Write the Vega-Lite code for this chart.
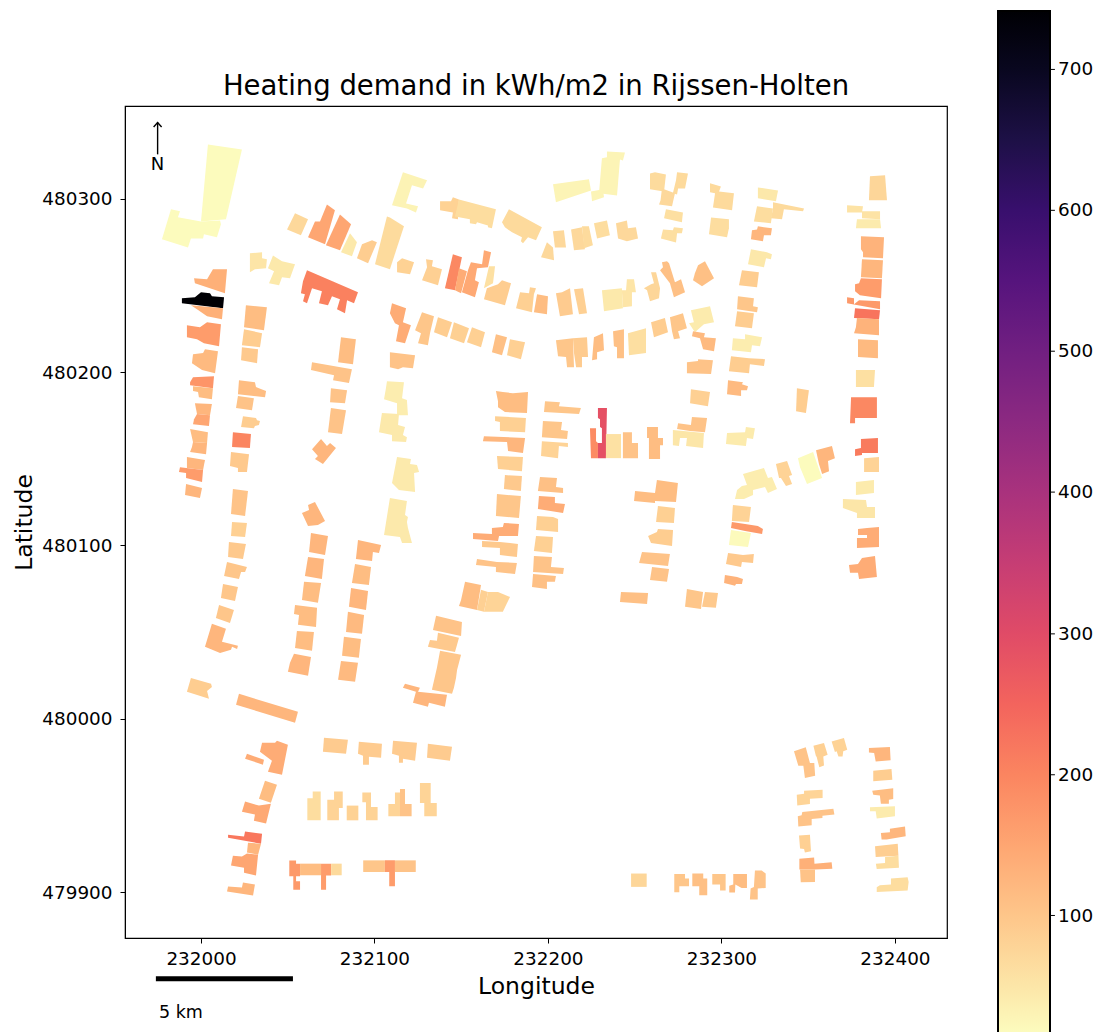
{"$schema":"https://vega.github.io/schema/vega-lite/v6.json","width":822,"height":832,"autosize":"none","padding":{"left":125,"top":106,"right":157,"bottom":94},"background":"white","config":{"view":{"stroke":"black","strokeWidth":1.2},"font":"DejaVu Sans"},"title":{"text":"Heating demand in kWh/m2 in Rijssen-Holten","fontSize":27.5,"font":"DejaVu Sans","fontWeight":"normal","color":"black","offset":-89},
"datasets":{"polys":[
{"id":1,"v":18,"xs":[232004,232023.6,232014.4,232000],"ys":[480331.4,480328.5,480288.2,480287]},
{"id":2,"v":18,"xs":[231982.7,231987.9,231986.7,232000,232011,232011.5,232009.2,232001.7,232001.2,231994.2,231992.5,231977.5],"ys":[480294,480292.8,480289.4,480287,480287.6,480285.3,480277.8,480279.6,480277.2,480277.2,480272,480276.7]},
{"id":3,"v":72,"xs":[232054.2,232061.7,232057.6,232049.6],"ys":[480291.7,480288.2,480279,480282.4]},
{"id":4,"v":150,"xs":[232072.6,232077.2,232071.5,232061.7,232065.7,232068.6],"ys":[480296.8,480293.4,480273.8,480277.8,480287,480287]},
{"id":5,"v":150,"xs":[232080.1,232086.5,232080.1,232072],"ys":[480291,480285.3,480270.3,480273.2]},
{"id":6,"v":45,"xs":[232085.9,232089.9,232087,232080.7],"ys":[480280.1,480275,480266.9,480269.2]},
{"id":7,"v":90,"xs":[232098.6,232101.4,232096.3,232089.9,232092.8],"ys":[480276.1,480275,480262.8,480265.7,480273.8]},
{"id":8,"v":68,"xs":[232107.2,232108.9,232117,232108.9,232100.3],"ys":[480289.9,480289.3,480284.2,480259.4,480262.3]},
{"id":9,"v":30,"xs":[232116.4,232130.3,232128,232121.6,232118.2,232125.1,232123.9,232118.7,232110.1],"ys":[480315.3,480310.7,480306,480307.8,480297.4,480295.7,480292.2,480294.5,480296.3]},
{"id":10,"v":741,"xs":[231989,231996.5,232000,232005.2,232006.3,232013.3,232012.7,231989],"ys":[480242.7,480243.2,480246.1,480245.5,480243.8,480243.2,480236.9,480239.8]},
{"id":11,"v":135,"xs":[231996,232003.5,232006.9,232015,232013.8,231996.5],"ys":[480254.2,480253.6,480259.4,480259.4,480245.5,480251.3]},
{"id":12,"v":135,"xs":[231994.2,232012.7,232012.1,232003.5,231997.7],"ys":[480238.6,480236.9,480230.6,480232.3,480236.3]},
{"id":13,"v":165,"xs":[231991.9,231999.4,232003.5,232011.5,232010.4,232001.7,231997.7,231991.9],"ys":[480227.1,480226,480228.8,480227.7,480215,480216.7,480219,480220.2]},
{"id":14,"v":120,"xs":[231995.4,232001.2,232002.3,232009.8,232008.1,232000.6,231994.8],"ys":[480210.4,480211,480213.3,480212.1,480199.4,480201.2,480205.2]},
{"id":15,"v":175,"xs":[231993.7,231995.4,232007.5,232006.9,231993.7],"ys":[480194.2,480197.1,480197.7,480190.8,480192.5]},
{"id":16,"v":115,"xs":[231995.4,232006.9,232006.3,231998.8,231998.3,231995.4],"ys":[480191.9,480190.8,480184.4,480185.6,480188.5,480189.1]},
{"id":17,"v":125,"xs":[231996.5,232006.3,232005.2,231997.7],"ys":[480182.1,480181.6,480175.2,480175.8]},
{"id":18,"v":150,"xs":[231997.7,232005.2,232004.6,231995.4,231996],"ys":[480175.8,480175.2,480168.9,480170,480172.9]},
{"id":19,"v":115,"xs":[231993.7,232004,232003.5,231995.4],"ys":[480167.2,480165.4,480159.1,480159.7]},
{"id":20,"v":125,"xs":[231995.4,232003.5,232002.9,231993.7,231994.8],"ys":[480159.7,480159.1,480152.7,480153.9,480156.8]},
{"id":21,"v":125,"xs":[231991.9,232002.3,232001.2,231991.9],"ys":[480151,480149.3,480143.5,480144.7]},
{"id":22,"v":165,"xs":[231987.9,232001.2,232000.6,231991.4,231991.4,231987.3],"ys":[480145.2,480143.5,480136.6,480138.9,480141.8,480142.4]},
{"id":23,"v":125,"xs":[231991.4,232000.6,231999.4,231990.8],"ys":[480135.5,480133.1,480127.4,480129.1]},
{"id":24,"v":115,"xs":[232025.9,232038,232036.3,232024.8],"ys":[480238.6,480237.5,480224.2,480226]},
{"id":25,"v":90,"xs":[232024.8,232035.2,232034,232023.6],"ys":[480224.8,480222.5,480214.4,480215.6]},
{"id":26,"v":95,"xs":[232023.6,232032.9,232032.3,232023.1],"ys":[480214.4,480213.3,480205.2,480206.9]},
{"id":27,"v":115,"xs":[232021.9,232031.1,232031.7,232033.4,232037.5,232036.9,232021.3],"ys":[480195.4,480194.2,480191.4,480190.8,480189.1,480185.6,480187.3]},
{"id":28,"v":105,"xs":[232021.3,232030.5,232029.4,232020.2],"ys":[480186.2,480185,480178.1,480179.3]},
{"id":29,"v":90,"xs":[232024.2,232031.7,232032.3,232034,232033.4,232031.1,232030.5,232023.1],"ys":[480174.6,480173.5,480172.3,480171.8,480169.5,480168.9,480167.7,480168.3]},
{"id":30,"v":200,"xs":[232018.4,232028.8,232028.2,232017.9],"ys":[480165.4,480164.3,480156.2,480156.8]},
{"id":31,"v":95,"xs":[232017.3,232027.7,232026.5,232021.3,232021.3,232016.7],"ys":[480153.9,480152.7,480142.4,480142.4,480144.7,480145.8]},
{"id":32,"v":105,"xs":[232018.4,232027.1,232025.4,232017.3],"ys":[480132.6,480131.4,480117,480118.2]},
{"id":33,"v":85,"xs":[232017.9,232026.5,232025.4,232017.3],"ys":[480113.6,480113,480104.9,480105.5]},
{"id":34,"v":95,"xs":[232016.1,232025.9,232024.2,232015.6],"ys":[480102,480100.9,480092.2,480093.4]},
{"id":35,"v":100,"xs":[232015,232026.5,232025.4,232023.1,232021.9,232013.3],"ys":[480090.5,480087.6,480084.7,480084.7,480080.7,480082.4]},
{"id":36,"v":100,"xs":[232012.7,232021.3,232019.6,232011.5],"ys":[480077.8,480076.1,480068,480069.7]},
{"id":37,"v":100,"xs":[232010.4,232019,232016.7,232008.6],"ys":[480065.7,480062.8,480055.3,480058.2]},
{"id":38,"v":125,"xs":[232006.3,232014.4,232012.1,232021.3,232020.8,232017.9,232017.3,232011,232002.3],"ys":[480054.8,480051.9,480044.4,480042.1,480040.3,480041.5,480039.8,480038,480041.5]},
{"id":39,"v":90,"xs":[231994.2,232005.8,232006.3,232003.5,232004.6,231991.9],"ys":[480023.6,480020.2,480018.4,480016.1,480011.5,480015.6]},
{"id":40,"v":125,"xs":[232021.9,232055.9,232054.2,232020.2],"ys":[480014.4,480004,479997.7,480008.1]},
{"id":41,"v":125,"xs":[232063.4,232073.2,232071.5,232062.3],"ys":[480107.2,480105.5,480094.5,480096.3]},
{"id":42,"v":125,"xs":[232061.7,232070.9,232069.7,232059.9],"ys":[480093.4,480092.2,480080.7,480082.4]},
{"id":43,"v":115,"xs":[232059.4,232069.2,232067.4,232058.2],"ys":[480079,480078.4,480066.9,480068.6]},
{"id":44,"v":115,"xs":[232054.2,232066.9,232066.3,232055.9,232056.5,232053.6],"ys":[480065.7,480064,480053,480054.2,480059.9,480060.5]},
{"id":45,"v":115,"xs":[232055.3,232065.1,232064,232054.2],"ys":[480050.7,480050.1,480039.2,480040.9]},
{"id":46,"v":125,"xs":[232053.6,232063.4,232061.7,232050.1,232051.3],"ys":[480037.5,480035.7,480024.8,480027.1,480032.3]},
{"id":47,"v":125,"xs":[232090.5,232103.8,232102.6,232099.1,232098.6,232089.3],"ys":[480103.2,480100.3,480095.7,480096.3,480091.1,480092.2]},
{"id":48,"v":115,"xs":[232088.8,232098,232096.8,232087],"ys":[480089.3,480087.6,480077.2,480078.4]},
{"id":49,"v":125,"xs":[232086.5,232096.3,232095.1,232085.3],"ys":[480075.5,480073.8,480062.8,480064.6]},
{"id":50,"v":120,"xs":[232084.7,232094,232092.8,232083.6],"ys":[480061.7,480059.9,480049,480050.1]},
{"id":51,"v":115,"xs":[232082.4,232092.2,232091,232081.3],"ys":[480047.3,480046.1,480035.2,480036.3]},
{"id":52,"v":120,"xs":[232080.7,232090.5,232088.8,232079],"ys":[480033.4,480032.3,480021.3,480022.5]},
{"id":53,"v":105,"xs":[232135.5,232150.4,232149.9,232133.7],"ys":[480059.4,480055.9,480047.8,480051.3]},
{"id":54,"v":95,"xs":[232136.6,232148.7,232147.6,232146.4,232130.8,232132,232136],"ys":[480049.6,480046.7,480042.7,480038.6,480041.5,480045.5,480045]},
{"id":55,"v":100,"xs":[232137.8,232149.9,232148.7,232147.6,232147,232145.8,232144.7,232133.1,232136],"ys":[480039.2,480036.9,480032.3,480028.2,480023.6,480017.9,480014.4,480016.7,480029.4]},
{"id":56,"v":125,"xs":[232116.4,232117.6,232126.2,232125.1,232141.8,232140.6,232131.4,232130.8,232122.2,232123.9],"ys":[480017.9,480020.2,480017.9,480015.6,480013.8,480006.9,480009.2,480006.9,480009.2,480015.6]},
{"id":57,"v":115,"xs":[232152.2,232161.4,232159.1,232148.7,232149.9],"ys":[480079,480077.2,480062.8,480065.1,480068.6]},
{"id":58,"v":85,"xs":[232161.4,232165.4,232163.1,232159.1],"ys":[480074.4,480073.2,480061.7,480062.8]},
{"id":59,"v":78,"xs":[232165.4,232171.2,232178.1,232174,232163.1],"ys":[480073.2,480073.2,480070.3,480061.7,480061.7]},
{"id":60,"v":115,"xs":[232170,232174,232179.8,232188.5,232187.9,232175.2,232171.2,232171.2],"ys":[480189.1,480188.5,480187.9,480188.5,480176.4,480177,480179.8,480183.3]},
{"id":61,"v":85,"xs":[232169.5,232187.3,232186.8,232172.3,232172.3,232169.5],"ys":[480174.6,480173.5,480165.4,480166,480171.2,480171.8]},
{"id":62,"v":125,"xs":[232163.1,232186.8,232185.6,232177,232176.4,232162.5],"ys":[480163.1,480162,480153.3,480154.5,480159.7,480160.2]},
{"id":63,"v":85,"xs":[232170.6,232185.6,232185,232171.2],"ys":[480151.6,480151,480142.9,480144.1]},
{"id":64,"v":95,"xs":[232175.2,232185,232184.4,232174.6],"ys":[480140.6,480140.1,480131.4,480132.6]},
{"id":65,"v":100,"xs":[232170.6,232184.4,232183.3,232170],"ys":[480129.7,480128.5,480115.9,480117]},
{"id":66,"v":140,"xs":[232156.8,232167.7,232167.7,232174,232174.6,232183.3,232182.7,232171.8,232171.2,232156.8],"ys":[480107.2,480106.6,480110.1,480110.7,480113,480112.4,480105.5,480105.5,480102.6,480103.8]},
{"id":67,"v":95,"xs":[232162,232172.3,232182.7,232182.1,232172.3,232172.3,232162],"ys":[480102.6,480102,480100.9,480093.4,480094.5,480098.6,480099.1]},
{"id":68,"v":105,"xs":[232159.1,232170.6,232182.1,232181,232170,232170,232158.5],"ys":[480092.2,480090.5,480089.9,480083.6,480084.7,480087.6,480088.8]},
{"id":69,"v":100,"xs":[232198.3,232206.9,232206.3,232219,232217.9,232197.7],"ys":[480183.3,480182.7,480180.4,480179.3,480175.8,480177]},
{"id":70,"v":100,"xs":[232197.1,232208.1,232207.5,232211.5,232211,232196.5],"ys":[480171.8,480171.2,480166.6,480166,480161.4,480162.5]},
{"id":71,"v":80,"xs":[232196.5,232211.5,232211.5,232206.3,232205.8,232196],"ys":[480160.2,480159.1,480156.8,480157.4,480150.4,480151.6]},
{"id":72,"v":110,"xs":[232195.4,232205.2,232204.6,232208.7,232208.7,232194.2],"ys":[480139.5,480138.9,480133.7,480133.1,480130.3,480131.4]},
{"id":73,"v":140,"xs":[232194.8,232204,232204,232209.8,232208.7,232194.2],"ys":[480128.5,480128,480124.5,480123.9,480118.7,480121]},
{"id":74,"v":85,"xs":[232193.7,232202.9,232205.8,232205.8,232193.1],"ys":[480117,480116.4,480115.3,480107.8,480108.9]},
{"id":75,"v":85,"xs":[232193.1,232202.9,232202.3,232191.9],"ys":[480105.5,480104.9,480095.7,480096.8]},
{"id":76,"v":105,"xs":[232191.9,232202.3,232201.7,232209.2,232208.7,232191.4],"ys":[480094,480093.4,480087.6,480087,480083.6,480084.7]},
{"id":77,"v":110,"xs":[232191.4,232204.6,232204,232199.4,232199.4,232190.8],"ys":[480083.6,480082.4,480079,480079,480074.9,480076.1]},
{"id":78,"v":190,"xs":[232224.2,232227.7,232227.7,232228.8,232228.8,232224.8],"ys":[480167.7,480167.7,480160.2,480159.1,480150.4,480150.4]},
{"id":79,"v":290,"xs":[232228.8,232234,232233.4,232228.8,232228.8,232231.1,232231.1,232230,232230,232228.8],"ys":[480179.3,480179.3,480150.4,480150.4,480159.1,480159.1,480167.7,480168.3,480172.9,480173.5]},
{"id":80,"v":58,"xs":[232233.4,232242.1,232242.1,232233.4],"ys":[480164.3,480164.3,480150.4,480150.4]},
{"id":81,"v":105,"xs":[232243.2,232248.4,232248.4,232251.9,232251.9,232243.2],"ys":[480165.4,480165.4,480159.1,480159.1,480150.4,480150.4]},
{"id":82,"v":115,"xs":[232257.1,232263.4,232263.4,232266.3,232266.3,232264.6,232264.6,232258.2,232258.2,232257.1],"ys":[480168.3,480168.3,480162,480162,480157.9,480157.9,480149.9,480149.9,480162,480162]},
{"id":83,"v":115,"xs":[232250.2,232261.7,232262.8,232274.9,232273.8,232261.7,232261.7,232249.6],"ys":[480131.4,480130.3,480137.8,480136,480125.1,480125.7,480124.5,480125.7]},
{"id":84,"v":85,"xs":[232263.4,232273.2,232272.6,232262.3],"ys":[480122.8,480121.6,480113,480113.6]},
{"id":85,"v":90,"xs":[232263.4,232272.1,232271.5,232259.4,232257.7,232262.8],"ys":[480109.5,480108.9,480099.7,480101.4,480105.5,480107.8]},
{"id":86,"v":105,"xs":[232254.2,232270.3,232269.2,232252.5],"ys":[480096.3,480095.1,480088.2,480089.9]},
{"id":87,"v":105,"xs":[232260,232269.8,232268.6,232258.8],"ys":[480087.6,480086.5,480079,480080.1]},
{"id":88,"v":110,"xs":[232242.1,232257.7,232257.1,232241.5],"ys":[480073.2,480072.6,480066.3,480067.4]},
{"id":89,"v":100,"xs":[232280.1,232289.4,232288.2,232279],"ys":[480074.9,480073.2,480063.4,480064.6]},
{"id":90,"v":95,"xs":[232290.5,232298,232296.8,232288.8],"ys":[480073.2,480072.6,480064,480064.6]},
{"id":91,"v":85,"xs":[232282.4,232293.4,232292.2,232281.9],"ys":[480190.2,480188.5,480180.4,480182.1]},
{"id":92,"v":120,"xs":[232303.8,232312.4,232311.8,232315.3,232314.7,232311.3,232311.3,232303.2],"ys":[480195.4,480194.2,480193.1,480191.9,480189.6,480189.6,480186.2,480187.3]},
{"id":93,"v":90,"xs":[232343.5,232350.4,232348.7,232343],"ys":[480190.8,480189.6,480176.4,480177.5]},
{"id":94,"v":105,"xs":[232283,232291.7,232290.5,232281.9,232274.4,232275,232282.4],"ys":[480174.1,480173.5,480165.4,480166,480167.2,480170.6,480169.5]},
{"id":95,"v":50,"xs":[232272,232289.9,232289.4,232279.6,232280.1,232276.1,232275.5,232272],"ys":[480166.6,480164.9,480156.2,480157.4,480162,480162,480157.4,480157.9]},
{"id":96,"v":42,"xs":[232303.2,232313.6,232314.1,232319.3,232318.2,232314.7,232314.1,232302.6],"ys":[480164.9,480165.4,480168.3,480167.7,480161.4,480162,480157.4,480158.5]},
{"id":97,"v":40,"xs":[232312.4,232324.5,232326.8,232329.1,232332,232326.8,232325.1,232318.2,232318.2,232313,232307.8,232309,232311.8,232314.7],"ys":[480141.2,480144.7,480138.9,480139.5,480132.6,480130.3,480133.7,480132,480129.1,480126.8,480126.8,480132,480134.3,480134.9]},
{"id":98,"v":80,"xs":[232331.4,232337.8,232340.7,232338.9,232340.7,232337.2,232334.3,232333.2],"ys":[480147,480148.7,480140.6,480140.1,480135.5,480134.3,480138.9,480138.9]},
{"id":99,"v":18,"xs":[232344.1,232352.8,232358,232349.3,232345.3],"ys":[480150.4,480153.9,480138.9,480135.5,480145.2]},
{"id":100,"v":125,"xs":[232354.5,232363.7,232365.4,232361.4,232362,232358,232356.2],"ys":[480155,480157.4,480150.4,480148.7,480142.9,480141.2,480147]},
{"id":101,"v":80,"xs":[232306.6,232317,232315.9,232306],"ys":[480123.4,480122.2,480113.6,480114.1]},
{"id":102,"v":170,"xs":[232306,232313.6,232321,232323.9,232323.4,232313.6,232305.5],"ys":[480113.6,480112.4,480111.2,480109.5,480106.6,480108.4,480110.1]},
{"id":103,"v":20,"xs":[232305.5,232317,232315.3,232304.3],"ys":[480108.9,480107.2,480099.1,480100.3]},
{"id":104,"v":95,"xs":[232303.8,232312.4,232318.7,232318.2,232311.8,232311.3,232302.6],"ys":[480095.7,480094.5,480095.1,480089.9,480090.5,480087.6,480089.3]},
{"id":105,"v":130,"xs":[232302,232309,232312.4,232311.8,232308.4,232307.8,232301.5],"ys":[480083,480081.8,480080.7,480077.8,480077.8,480076.7,480078.4]},
{"id":106,"v":60,"xs":[232377.5,232388.5,232387.9,232377.5],"ys":[480201.2,480201.2,480191.4,480191.4]},
{"id":107,"v":195,"xs":[232374.7,232389.6,232389.6,232377,232377,232374.1],"ys":[480185.6,480185.6,480173.5,480173.5,480170.6,480170.6]},
{"id":108,"v":215,"xs":[232380.4,232390.2,232390.2,232381,232381,232377,232377,232380.4],"ys":[480161.4,480162,480153.3,480153.3,480152.2,480151.6,480155.6,480156.2]},
{"id":109,"v":80,"xs":[232382.2,232390.8,232390.8,232382.2],"ys":[480150.4,480151,480142.4,480142.4]},
{"id":110,"v":42,"xs":[232377.5,232387.9,232387.9,232382.7,232377.5],"ys":[480136.6,480137.8,480130.3,480129.7,480129.1]},
{"id":111,"v":50,"xs":[232370,232383.3,232383.9,232388.5,232388.5,232378.1,232378.1,232370],"ys":[480126.8,480126.2,480122.2,480122.2,480115.9,480115.9,480118.7,480121.6]},
{"id":112,"v":140,"xs":[232378.7,232383.9,232390.8,232390.8,232378.1,232378.1,232383.9,232383.9,232378.7],"ys":[480109.5,480110.1,480110.7,480099.1,480098.6,480104.3,480104.3,480106.1,480106.1]},
{"id":113,"v":140,"xs":[232381,232388.5,232389.6,232379.3,232378.7,232374.1,232373.5,232378.7],"ys":[480092.8,480094,480081.8,480080.7,480084.2,480084.2,480088.8,480089.3]},
{"id":114,"v":75,"xs":[232385.6,232394.3,232395.4,232385],"ys":[480313,480313.6,480299.2,480299.2]},
{"id":115,"v":55,"xs":[232372.4,232381.6,232381,232372.4],"ys":[480296.3,480295.7,480292.2,480292.2]},
{"id":116,"v":55,"xs":[232381,232391.4,232391.4,232381],"ys":[480292.8,480292.8,480288.2,480288.8]},
{"id":117,"v":42,"xs":[232378.1,232391.4,232392,232377.5],"ys":[480288.2,480288.2,480283,480283]},
{"id":118,"v":130,"xs":[232380.4,232393.7,232393.1,232381.6,232381.6,232380.4],"ys":[480278.4,480277.8,480265.7,480266.3,480269.2,480270.9]},
{"id":119,"v":125,"xs":[232381,232393.1,232392.5,232380.4],"ys":[480265.1,480264.6,480254.2,480254.8]},
{"id":120,"v":165,"xs":[232380.4,232392.5,232392,232379.8,232377,232377,232379.3],"ys":[480254.2,480253.6,480242.7,480244.4,480246.7,480250.7,480251.3]},
{"id":121,"v":170,"xs":[232372.4,232376.4,232376.4,232379.3,232391.4,232391.4,232372.4],"ys":[480243.2,480242.7,480239.2,480241.5,480241,480236.3,480239.8]},
{"id":122,"v":225,"xs":[232377,232391.4,232390.8,232376.4],"ys":[480236.9,480235.7,480230.6,480231.2]},
{"id":123,"v":130,"xs":[232378.1,232390.8,232390.8,232376.4,232377.5],"ys":[480231.2,480230.6,480221.3,480222.5,480226]},
{"id":124,"v":120,"xs":[232378.7,232390.2,232390.2,232378.7],"ys":[480219,480218.5,480208.1,480208.7]},
{"id":125,"v":48,"xs":[232321,232332.6,232331.4,232321],"ys":[480306.6,480304.9,480298.6,480300.3]},
{"id":126,"v":70,"xs":[232329.7,232347.6,232347,232336,232334.9,232328.5,232329.7],"ys":[480298,480294.5,480292.8,480294,480288.2,480288.8,480294]},
{"id":127,"v":65,"xs":[232320.5,232329.7,232328.5,232318.7],"ys":[480295.7,480294.5,480285.9,480287]},
{"id":128,"v":125,"xs":[232321,232329.1,232328.5,232324.5,232323.9,232317,232317.6,232320.5],"ys":[480284.2,480283,480279,480279,480275.5,480276.7,480281.9,480282.4]},
{"id":129,"v":48,"xs":[232317,232326.2,232329.1,232328.5,232325.7,232324.5,232315.3],"ys":[480270.9,480269.2,480268,480265.1,480265.7,480260.5,480262.3]},
{"id":130,"v":90,"xs":[232311.8,232321.6,232320.5,232310.1],"ys":[480258.8,480257.6,480249,480250.2]},
{"id":131,"v":100,"xs":[232309.5,232318.7,232318.2,232321,232320.5,232309],"ys":[480243.8,480242.7,480238,480237.5,480234.6,480236.3]},
{"id":132,"v":90,"xs":[232309,232318.7,232317.6,232307.8],"ys":[480235.2,480234,480225.4,480226.5]},
{"id":133,"v":40,"xs":[232313.6,232323.4,232322.2,232317.6,232317,232306,232306.6,232313.6],"ys":[480221.9,480220.2,480215,480215.6,480211.5,480212.7,480219.6,480219]},
{"id":134,"v":90,"xs":[232305.5,232315.9,232325.1,232324.5,232316.4,232315.9,232304.3],"ys":[480209.2,480208.1,480207.5,480203.5,480204.6,480199.4,480200.6]},
{"id":135,"v":68,"xs":[232258.8,232261.7,232268,232266.9,232258.8],"ys":[480314.7,480315.3,480314.1,480304.3,480305.5]},
{"id":136,"v":70,"xs":[232274.4,232280.7,232279,232275,232274.4,232272,232273.8],"ys":[480315.3,480314.7,480306,480306,480302.6,480303.2,480310.7]},
{"id":137,"v":72,"xs":[232265.7,232273.2,232271.5,232264,232264.9],"ys":[480306,480303.2,480295.7,480296.8,480299.2]},
{"id":138,"v":62,"xs":[232268,232277.8,232277.2,232266.9],"ys":[480294,480292.2,480286.5,480288.8]},
{"id":139,"v":62,"xs":[232266.3,232272,232272.6,232277.8,232277.2,232274.4,232273.8,232265.1],"ys":[480282.4,480281.9,480283.6,480283,480280.1,480280.1,480274.9,480277.2]},
{"id":140,"v":70,"xs":[232293.4,232299.7,232298.6,232307.2,232306.1,232295.1,232296.3,232293.4],"ys":[480309,480307.2,480304.3,480303.2,480293.4,480295.1,480303.2,480303.8]},
{"id":141,"v":65,"xs":[232294,232304.3,232304.3,232303.2,232292.8],"ys":[480289.3,480288.2,480283,480277.8,480279.6]},
{"id":142,"v":110,"xs":[232268.6,232269.8,232273.2,232276.7,232279,232272.6,232270.3,232264.6,232266.3,232265.7],"ys":[480264,480262.8,480251.9,480253.6,480246.1,480243.2,480251.3,480258.8,480260.5,480263.4]},
{"id":143,"v":110,"xs":[232286.5,232290.5,232295.7,232288.8,232283.6,232284.7],"ys":[480261.7,480264,480254.2,480249.6,480253,480257.1]},
{"id":144,"v":75,"xs":[232259.4,232262.3,232264.6,232264,232258.8,232257.1,232255.3,232259.4,232261.1],"ys":[480257.6,480257.6,480248.4,480242.7,480241,480247.3,480248.4,480250.7,480251.3]},
{"id":145,"v":90,"xs":[232259.4,232267.4,232269.2,232261.1],"ys":[480228.8,480231.2,480223,480220.2]},
{"id":146,"v":100,"xs":[232270.3,232277.8,232280.1,232275,232276.1,232272.6,232271.5],"ys":[480231.7,480234,480225.4,480223.6,480219.6,480219,480223.6]},
{"id":147,"v":42,"xs":[232282.4,232293.4,232295.7,232289.9,232284.7,232281.3,232284.1],"ys":[480235.7,480238,480228.8,480227.7,480223,480228.2,480228.8]},
{"id":148,"v":120,"xs":[232283.6,232290.5,232289.9,232296.8,232295.7,232289.4,232287.6,232283],"ys":[480223.6,480222.5,480220.2,480219.6,480212.1,480213.3,480219.6,480220.8]},
{"id":149,"v":105,"xs":[232280.1,232286.5,232286.5,232295.1,232294,232280.1],"ys":[480205.8,480206.4,480207.5,480206.9,480198.9,480199.4]},
{"id":150,"v":82,"xs":[232137.8,232144.1,232145.2,232148.7,232148.1,232144.7,232145.2,232137.8],"ys":[480298.6,480298.6,480300.9,480299.7,480288.2,480288.8,480292.2,480293.4]},
{"id":151,"v":65,"xs":[232148.7,232170,232167.7,232165.4,232165.4,232159.1,232158.5,232155,232155,232146.4],"ys":[480299.7,480294,480283,480283.6,480284.7,480286.5,480285.3,480285.9,480288.2,480289.9]},
{"id":152,"v":70,"xs":[232177.5,232196.5,232193.1,232188.5,232185.6,232184.4,232185,232179.3,232175.2,232173.5],"ys":[480294,480283.6,480276.1,480277.8,480274.4,480275.5,480277.8,480280.7,480283.6,480286.5]},
{"id":153,"v":28,"xs":[232202.9,232223.6,232224.8,232204.6],"ys":[480308.4,480311.3,480304.9,480298]},
{"id":154,"v":28,"xs":[232234,232244.4,232243.2,232241.5,232239.8,232229.4,232231.1,232234],"ys":[480327.4,480326.8,480322.2,480322.8,480302,480303.2,480323.4,480324]},
{"id":155,"v":28,"xs":[232224.8,232231.7,232232.3,232225.4],"ys":[480304.3,480305.5,480300.9,480298.6]},
{"id":156,"v":72,"xs":[232202.9,232209.2,232210.4,232204],"ys":[480281.3,480281.9,480272,480272]},
{"id":157,"v":72,"xs":[232199.4,232202.9,232203.5,232196],"ys":[480275,480272,480264.6,480266.3]},
{"id":158,"v":72,"xs":[232213.3,232219.6,232221.3,232215],"ys":[480282.4,480283.6,480270.9,480270.3]},
{"id":159,"v":68,"xs":[232219.6,232223.6,232225.9,232220.8],"ys":[480284.2,480284.2,480273.2,480271.5]},
{"id":160,"v":65,"xs":[232226.5,232234,232235.7,232228.3],"ys":[480285.9,480287.6,480279,480277.2]},
{"id":161,"v":72,"xs":[232239.2,232245.5,232246.1,232250.7,232251.9,232245.5,232240.4],"ys":[480285.9,480287.6,480283,480283.6,480277.2,480275.5,480277.2]},
{"id":162,"v":82,"xs":[232113,232115.9,232122.8,232120.5,232113],"ys":[480263.4,480265.7,480263.4,480256.5,480257.6]},
{"id":163,"v":85,"xs":[232129.7,232133.7,232133.1,232138.9,232136.6,232127.4,232130.3],"ys":[480265.1,480264.6,480261.1,480259.4,480250.2,480253,480260.5]},
{"id":164,"v":195,"xs":[232145.2,232150.4,232146.4,232140.6],"ys":[480268,480266.3,480247.3,480248.4]},
{"id":165,"v":140,"xs":[232148.7,232153.3,232149.9,232146.4],"ys":[480260,480258.2,480245.5,480247.3]},
{"id":166,"v":145,"xs":[232155.6,232162,232163.1,232167.2,232165.4,232159.1,232157.9,232160.2,232157.9,232150.4,232153.9],"ys":[480263.4,480262.3,480270.3,480269.2,480260.5,480260,480253,480251.9,480243.2,480246.1,480258.8]},
{"id":167,"v":60,"xs":[232166,232169.5,232168.3,232163.1],"ys":[480261.1,480261.1,480251.3,480248.4]},
{"id":168,"v":90,"xs":[232164.8,232171.2,232173.5,232178.7,232175.2,232163.1],"ys":[480248.4,480250.7,480253,480251.3,480238.6,480242.1]},
{"id":169,"v":85,"xs":[232183.9,232189.1,232189.6,232193.1,232191.9,232190.8,232181.6],"ys":[480246.1,480245.5,480249,480248.4,480245,480234.6,480236.9]},
{"id":170,"v":115,"xs":[232193.7,232200,232199.4,232191.9],"ys":[480245,480243.8,480233.4,480234.6]},
{"id":171,"v":92,"xs":[232204.6,232208.1,232212.7,232214.4,232206.9],"ys":[480245.5,480246.1,480248.4,480233.4,480232.3]},
{"id":172,"v":85,"xs":[232215,232220.2,232222.5,232217.9],"ys":[480247.9,480248.4,480234,480233.4]},
{"id":173,"v":45,"xs":[232231.1,232242.6,232243.2,232232.3],"ys":[480247.3,480248.4,480236.9,480235.2]},
{"id":174,"v":52,"xs":[232242.6,232245,232245.5,232249.6,232250.7,232248.4,232248.4,232243.2],"ys":[480247.3,480247.3,480253.6,480253.6,480246.1,480246.1,480238,480237.5]},
{"id":175,"v":140,"xs":[232110.1,232118.2,232116.4,232121,232117.6,232112.4,232114.1,232111.8,232108.9],"ys":[480239.8,480236.9,480228.8,480227.1,480216.7,480217.9,480227.1,480228.2,480234]},
{"id":176,"v":100,"xs":[232127.4,232134.3,232132,232130.8,232125.1,232126.8,232123.4],"ys":[480234.6,480232.3,480222.5,480215.6,480216.7,480222.5,480224.2]},
{"id":177,"v":90,"xs":[232136.6,232144.7,232141.8,232134.3],"ys":[480231.7,480228.8,480220.2,480223]},
{"id":178,"v":85,"xs":[232145.8,232154.5,232151.6,232143.5],"ys":[480228.8,480225.4,480216.7,480219.6]},
{"id":179,"v":85,"xs":[232156.2,232163.7,232161.4,232153.3],"ys":[480225.9,480223,480214.4,480217.3]},
{"id":180,"v":110,"xs":[232170,232176.4,232173.5,232167.7],"ys":[480221.9,480220.2,480209.8,480211.5]},
{"id":181,"v":85,"xs":[232178.1,232186.8,232184.4,232176.4],"ys":[480219,480217.3,480207.5,480209.8]},
{"id":182,"v":105,"xs":[232108.9,232123.4,232122.2,232116.4,232113.6,232108.9],"ys":[480211.5,480209.8,480202.3,480202.9,480201.7,480202.9]},
{"id":183,"v":100,"xs":[232204.6,232214.4,232215,232211,232210.4,232205.8],"ys":[480218.5,480219.6,480202.9,480202.9,480208.7,480209.2]},
{"id":184,"v":92,"xs":[232214.4,232222.5,232223.1,232219.6,232219.6,232216.2,232215],"ys":[480219.6,480220.2,480208.7,480208.7,480202.9,480202.9,480211]},
{"id":185,"v":115,"xs":[232226.5,232231.7,232232.3,232228.3,232228.3,232225.4],"ys":[480220.2,480222.5,480212.7,480211.5,480207.5,480206.9]},
{"id":186,"v":110,"xs":[232237.5,232243.8,232243.8,232239.8,232239.8,232238],"ys":[480223.6,480224.8,480208.1,480208.1,480214.4,480215]},
{"id":187,"v":62,"xs":[232246.1,232256.5,232256.5,232246.7],"ys":[480222.5,480225.4,480211,480209.8]},
{"id":188,"v":52,"xs":[232028.2,232035.2,232035.2,232038,232037.5,232031.1,232028.2],"ys":[480268.6,480269.2,480265.7,480265.1,480260,480259.4,480257.6]},
{"id":189,"v":45,"xs":[232041.5,232046.7,232054.2,232051.3,232046.7,232045,232039.2,232042.1,232038.6],"ys":[480267.4,480264,480262.3,480254.2,480254.8,480250.2,480251.3,480258.2,480260]},
{"id":190,"v":205,"xs":[232061.1,232090.5,232088.2,232084.2,232083,232078.4,232080.1,232075.5,232073.2,232068,232069.7,232064,232061.1,232058.8,232059.9,232057.6,232058.8],"ys":[480258.8,480246.1,480239.8,480241.5,480234,480236.3,480242.1,480243.8,480238.6,480239.8,480246.7,480248.4,480239.8,480240.9,480245,480245.5,480252.5]},
{"id":191,"v":115,"xs":[232080.7,232089.3,232087.6,232079],"ys":[480220.2,480219,480204.6,480205.8]},
{"id":192,"v":105,"xs":[232064,232087,232085.3,232076.1,232076.7,232063.4],"ys":[480205.8,480201.7,480193.7,480195.4,480198.3,480201.2]},
{"id":193,"v":105,"xs":[232074.9,232084.2,232083,232074.4],"ys":[480190.8,480189.6,480182.1,480182.7]},
{"id":194,"v":105,"xs":[232074.9,232083.6,232081.3,232073.2],"ys":[480179.3,480178.1,480164.3,480165.4]},
{"id":195,"v":125,"xs":[232069.2,232072.6,232074.4,232077.8,232070.3,232065.7,232067.4,232064],"ys":[480161.4,480157.4,480159.1,480156.2,480147,480149.9,480151.6,480155.6]},
{"id":196,"v":125,"xs":[232061.7,232065.7,232071.5,232067.4,232061.7,232058.2,232062.3],"ys":[480123.4,480125.1,480114.1,480111.8,480111.2,480118.7,480120.5]},
{"id":197,"v":40,"xs":[232107.2,232117,232115.9,232118.7,232119.3,232113,232113,232105.5,232106.6],"ys":[480194.8,480194.2,480185,480183.9,480175.2,480175.2,480182.1,480184.4,480190.8]},
{"id":198,"v":45,"xs":[232104.3,232114.1,232113.6,232117.6,232116.4,232118.7,232118.2,232110.1,232110.1,232102.6],"ys":[480176.4,480175.8,480169.5,480168.3,480163.7,480162.5,480159.7,480160.2,480163.7,480165.4]},
{"id":199,"v":44,"xs":[232113,232121,232120.5,232124.5,232125.7,232122.8,232123.4,232114.1,232110.1],"ys":[480151,480149.9,480147,480146.4,480142.4,480141.8,480130.8,480132,480136]},
{"id":200,"v":45,"xs":[232108.9,232118.7,232117.6,232119.3,232118.7,232119.3,232121.6,232115.9,232114.7,232105.5],"ys":[480127.4,480125.7,480117.6,480116.4,480113.6,480110.1,480101.4,480101.4,480104.9,480106.1]},
{"id":201,"v":140,"xs":[232035.2,232042.7,232043.8,232050.1,232046.7,232038.6,232040.9,232034],"ys":[479986.2,479986.2,479987.3,479985,479967.7,479969.5,479975.8,479981]},
{"id":202,"v":140,"xs":[232026.5,232036.3,232035.7,232025.4],"ys":[479979.8,479976.4,479973.5,479977]},
{"id":203,"v":115,"xs":[232036.9,232043.8,232040.3,232033.4],"ys":[479964.3,479962,479951.6,479953.9]},
{"id":204,"v":145,"xs":[232025.4,232033.4,232040.3,232037.5,232030.5,232031.1,232023.6],"ys":[479952.2,479949.9,479951,479939.5,479941.2,479944.7,479946.4]},
{"id":205,"v":220,"xs":[232025.4,232035.2,232034.6,232015.6,232015.6,232024.8],"ys":[479934.9,479933.7,479927.9,479931.4,479933.1,479932]},
{"id":206,"v":125,"xs":[232027.1,232034.6,232032.9,232026.5],"ys":[479928.5,479927.9,479921.6,479922.8]},
{"id":207,"v":150,"xs":[232026.5,232032.9,232031.7,232024.8,232024.8,232017.3,232018.4,232023.6],"ys":[479922.2,479921.6,479909.5,479911.2,479914.1,479915.3,479921,479920.5]},
{"id":208,"v":125,"xs":[232024.2,232031.1,232030,232015,232015.6,232023.6],"ys":[479905.5,479904.3,479898,479900.3,479903.2,479902.6]},
{"id":209,"v":92,"xs":[232070.9,232084.7,232083.6,232070.3],"ys":[479989,479987.9,479979.8,479981]},
{"id":210,"v":92,"xs":[232091,232104.3,232103.8,232096.8,232096.8,232093.4,232093.4,232090.5],"ys":[479986.7,479985.6,479977.5,479978.1,479973.5,479973.5,479978.7,479979.8]},
{"id":211,"v":92,"xs":[232110.7,232124.5,232123.4,232116.4,232116.4,232114.1,232114.1,232110.1],"ys":[479987.3,479986.2,479975.8,479977,479974.6,479974.6,479978.7,479979.8]},
{"id":212,"v":92,"xs":[232130.8,232144.7,232143.5,232130.3],"ys":[479985.6,479983.9,479975.8,479977.5]},
{"id":213,"v":65,"xs":[232064.4,232069,232069,232061.3,232061.3,232064.4],"ys":[479958.1,479958.1,479941.4,479941.4,479954.2,479954.2]},
{"id":214,"v":80,"xs":[232076.7,232081.7,232081.7,232079.5,232079.5,232072.8,232072.8,232076.7],"ys":[479958.1,479958.1,479948.5,479948.5,479941.4,479941.4,479953.3,479953.3]},
{"id":215,"v":82,"xs":[232084,232090.7,232090.7,232084],"ys":[479949.9,479949.9,479941.4,479941.4]},
{"id":216,"v":80,"xs":[232093,232098,232098,232101.8,232101.8,232095.1,232095.1,232093],"ys":[479957.5,479957.5,479949.1,479949.1,479941.4,479941.4,479951.8,479951.8]},
{"id":217,"v":78,"xs":[232108,232111.8,232111.8,232114.7,232114.7,232108],"ys":[479950.8,479950.8,479957.5,479957.5,479943.7,479943.7]},
{"id":218,"v":105,"xs":[232114.7,232117.6,232117.6,232121.4,232121.4,232114.7],"ys":[479959.5,479959.5,479950.8,479950.8,479943.7,479943.7]},
{"id":219,"v":78,"xs":[232126.2,232132.4,232132.4,232135.9,232135.9,232128.7,232128.7,232126.2],"ys":[479962.9,479962.9,479951.4,479951.4,479943.7,479943.7,479951.4,479951.4]},
{"id":220,"v":170,"xs":[232050.9,232054.8,232054.8,232057.1,232057.1,232054.8,232054.8,232057.1,232057.1,232053.2,232053.2,232050.9],"ys":[479918.2,479918.2,479916.4,479916.4,479909.1,479909.1,479906.2,479906.2,479901.4,479901.4,479909.1,479909.1]},
{"id":221,"v":115,"xs":[232057.1,232069.2,232069.2,232057.1],"ys":[479916.4,479916.4,479909.7,479909.7]},
{"id":222,"v":165,"xs":[232069.2,232075,232075,232072.1,232072.1,232069.2],"ys":[479916.4,479916.4,479909.5,479909.5,479901.4,479901.4]},
{"id":223,"v":70,"xs":[232075,232081.1,232081.1,232075],"ys":[479916.4,479916.4,479909.7,479909.7]},
{"id":224,"v":100,"xs":[232093.5,232106,232106,232093.5],"ys":[479918.3,479918.3,479911.6,479911.6]},
{"id":225,"v":165,"xs":[232106,232111.8,232111.8,232108.5,232108.5,232106],"ys":[479918.3,479918.3,479903.3,479903.3,479911.6,479911.6]},
{"id":226,"v":105,"xs":[232111.8,232123.8,232123.8,232111.8],"ys":[479918.3,479918.3,479911.6,479911.6]},
{"id":227,"v":75,"xs":[232247.9,232256.9,232256.9,232247.9],"ys":[479910.7,479910.7,479903,479903]},
{"id":228,"v":100,"xs":[232272.8,232279,232279,232281.3,232281.3,232275.7,232275.7,232272.8],"ys":[479910.5,479910.5,479907.8,479907.8,479903.3,479903.3,479899.9,479899.9]},
{"id":229,"v":110,"xs":[232283.2,232289.5,232289.5,232291.8,232291.8,232287.2,232287.2,232283.2],"ys":[479910.7,479910.7,479907.8,479907.8,479898.2,479898.2,479903.3,479903.3]},
{"id":230,"v":100,"xs":[232294.7,232302.4,232302.4,232299.2,232299.2,232294.7],"ys":[479910.5,479910.5,479900.9,479900.9,479904.3,479904.3]},
{"id":231,"v":115,"xs":[232306.8,232314.7,232314.7,232311.6,232308,232307.8,232304.5,232304.5,232306.8],"ys":[479910.5,479910.5,479902.4,479902.4,479904.3,479899.7,479899.7,479903.7,479904.3]},
{"id":232,"v":105,"xs":[232319.3,232323.2,232325.5,232325.5,232320.9,232320.9,232316.4,232316.8,232318.7],"ys":[479912.4,479912.4,479910.7,479902.4,479902,479895.7,479895.7,479902,479903]},
{"id":233,"v":105,"xs":[232341.8,232348.6,232351,232353.5,232354,232348.1,232347.2,232344.3],"ys":[479981.2,479983.5,479974.5,479974.5,479967.1,479965.8,479972.9,479972.9]},
{"id":234,"v":85,"xs":[232353,232359.1,232361.2,232358.7,232359.1,232356.4,232354.9,232354.4],"ys":[479984.4,479986,479979.2,479978.3,479973.1,479972,479977.9,479978.7]},
{"id":235,"v":80,"xs":[232363.5,232370.6,232372.5,232370.2,232369.8,232367.4,232366.4,232365.4],"ys":[479986.9,479988.9,479982.1,479981.2,479978.3,479978.3,479981.2,479980.8]},
{"id":236,"v":125,"xs":[232385,232397.1,232397.5,232388.9,232388,232385],"ys":[479983.1,479983.7,479976,479975.4,479980.2,479980.6]},
{"id":237,"v":90,"xs":[232387.5,232398,232398.5,232387.5],"ys":[479970,479971,479964.8,479963.9]},
{"id":238,"v":115,"xs":[232386.9,232399,232399,232396.5,232396.5,232391.9,232391.3,232387.5],"ys":[479958.5,479959.9,479953.7,479953.3,479951,479951,479955.8,479956.2]},
{"id":239,"v":42,"xs":[232385.6,232400,232400,232389.5,232388.9,232385.6],"ys":[479948.9,479949.5,479943.7,479942.4,479946.6,479946.6]},
{"id":240,"v":125,"xs":[232397.1,232405.8,232406.2,232395.2,232392.3,232391.9,232397.1],"ys":[479936.6,479937.9,479932.2,479930.3,479930.3,479934.1,479934.5]},
{"id":241,"v":88,"xs":[232388.5,232401.6,232402,232388.9],"ys":[479926.4,479927.9,479921,479920.3]},
{"id":242,"v":65,"xs":[232394.3,232402,232402.3,232389.5,232389,232394.3],"ys":[479920.3,479921,479914,479913.3,479916.4,479916.8]},
{"id":243,"v":65,"xs":[232397.7,232407.3,232407.9,232407.3,232389.5,232389.5,232391.3,232397.7],"ys":[479907.8,479908.5,479905.8,479900.9,479900.1,479902.8,479903.9,479904.3]},
{"id":244,"v":78,"xs":[232343.4,232347.6,232347.6,232358.3,232358.3,232351,232351,232343.7],"ys":[479956.2,479956.8,479958.5,479959.1,479954.3,479953.9,479950.8,479950]},
{"id":245,"v":105,"xs":[232346.6,232364.5,232365.1,232358.2,232358.2,232352,232352,232344.3,232344,232346.2],"ys":[479946.2,479948.1,479944.7,479944.1,479942.8,479942.2,479938.5,479937.9,479943.7,479944.3]},
{"id":246,"v":85,"xs":[232344.7,232351,232351.6,232348.1,232347.6,232345.3],"ys":[479932.6,479933.1,479923.5,479922.9,479924.9,479925.1]},
{"id":247,"v":135,"xs":[232344.9,232353.4,232353.6,232363.5,232363.9,232353.9,232344.9],"ys":[479919.3,479919.9,479916.4,479917.2,479913.5,479913,479913]},
{"id":248,"v":105,"xs":[232345.3,232353.9,232353.9,232345.7],"ys":[479913,479913,479905.8,479905.7]}
],
"bar":[{"x":231974,"x2":232053,"y":479850}],
"north":[{"x":231975,"y":480325.7,"y2":480344.1}],
"head":[{"x":231972.7,"y":480341.5,"k":1},{"x":231975,"y":480344.1,"k":2},{"x":231977.3,"y":480341.5,"k":3}],
"txt":[{"x":231974.9,"y":480319.6,"t":"N"}],
"km":[{"x":231975.8,"y":479830.5,"t":"5 km"}],
"cbticks":[{"x":232489.4,"x2":232492.2,"y":480374.7},{"x":232489.4,"x2":232492.2,"y":480293.4},{"x":232489.4,"x2":232492.2,"y":480212.1},{"x":232489.4,"x2":232492.2,"y":480130.8},{"x":232489.4,"x2":232492.2,"y":480049},{"x":232489.4,"x2":232492.2,"y":479967.7},{"x":232489.4,"x2":232492.2,"y":479886.5}]},
"layer":[
{"data":{"name":"polys"},"transform":[{"flatten":["xs","ys"]},{"window":[{"op":"row_number","as":"k"}]}],"mark":{"type":"line","interpolate":"linear-closed","strokeWidth":0,"clip":true},"encoding":{"x":{"field":"xs","type":"quantitative","scale":{"domain":[231956.2,232430],"nice":false,"zero":false},"axis":{"title":"Longitude","titleFontSize":23.5,"titleFontWeight":"normal","titleColor":"black","titlePadding":7,"labelFontSize":18.4,"labelColor":"black","tickColor":"black","tickSize":5,"domainColor":"black","values":[232000,232100,232200,232300,232400],"format":"d","grid":false,"labelPadding":6}},"y":{"field":"ys","type":"quantitative","scale":{"domain":[479873.5,480353.6],"nice":false,"zero":false},"axis":{"title":"Latitude","titleFontSize":23.5,"titleFontWeight":"normal","titleColor":"black","titlePadding":5,"labelFontSize":18.4,"labelColor":"black","tickColor":"black","tickSize":5,"domainColor":"black","values":[479900,480000,480100,480200,480300],"format":"d","grid":false,"labelPadding":8}},"detail":{"field":"id"},"order":{"field":"k"},"fill":{"field":"v","type":"quantitative","scale":{"scheme":"magma","reverse":true,"domain":[15,741]},"legend":{"orient":"none","legendX":873,"legendY":-95,"title":null,"gradientLength":1025,"gradientThickness":52,"gradientStrokeColor":"black","gradientStrokeWidth":2,"values":[100,200,300,400,500,600,700],"labelFontSize":18.4,"labelColor":"black","labelOffset":8}}}},
{"data":{"name":"bar"},"mark":{"type":"rule","strokeWidth":5,"color":"black","clip":false},"encoding":{"x":{"field":"x","type":"quantitative"},"x2":{"field":"x2"},"y":{"field":"y","type":"quantitative"}}},
{"data":{"name":"north"},"mark":{"type":"rule","strokeWidth":1.4,"color":"black","clip":false},"encoding":{"x":{"field":"x","type":"quantitative"},"y":{"field":"y","type":"quantitative"},"y2":{"field":"y2"}}},
{"data":{"name":"head"},"mark":{"type":"line","strokeWidth":1.4,"color":"black","clip":false},"encoding":{"x":{"field":"x","type":"quantitative"},"y":{"field":"y","type":"quantitative"},"order":{"field":"k"}}},
{"data":{"name":"txt"},"mark":{"type":"text","align":"center","baseline":"middle","fontSize":18,"color":"black","clip":false},"encoding":{"x":{"field":"x","type":"quantitative"},"y":{"field":"y","type":"quantitative"},"text":{"field":"t"}}},
{"data":{"name":"km"},"mark":{"type":"text","align":"left","baseline":"middle","fontSize":17.5,"color":"black","clip":false},"encoding":{"x":{"field":"x","type":"quantitative"},"y":{"field":"y","type":"quantitative"},"text":{"field":"t"}}},
{"data":{"name":"cbticks"},"mark":{"type":"rule","strokeWidth":1,"color":"black","clip":false},"encoding":{"x":{"field":"x","type":"quantitative"},"x2":{"field":"x2"},"y":{"field":"y","type":"quantitative"}}}
]}
